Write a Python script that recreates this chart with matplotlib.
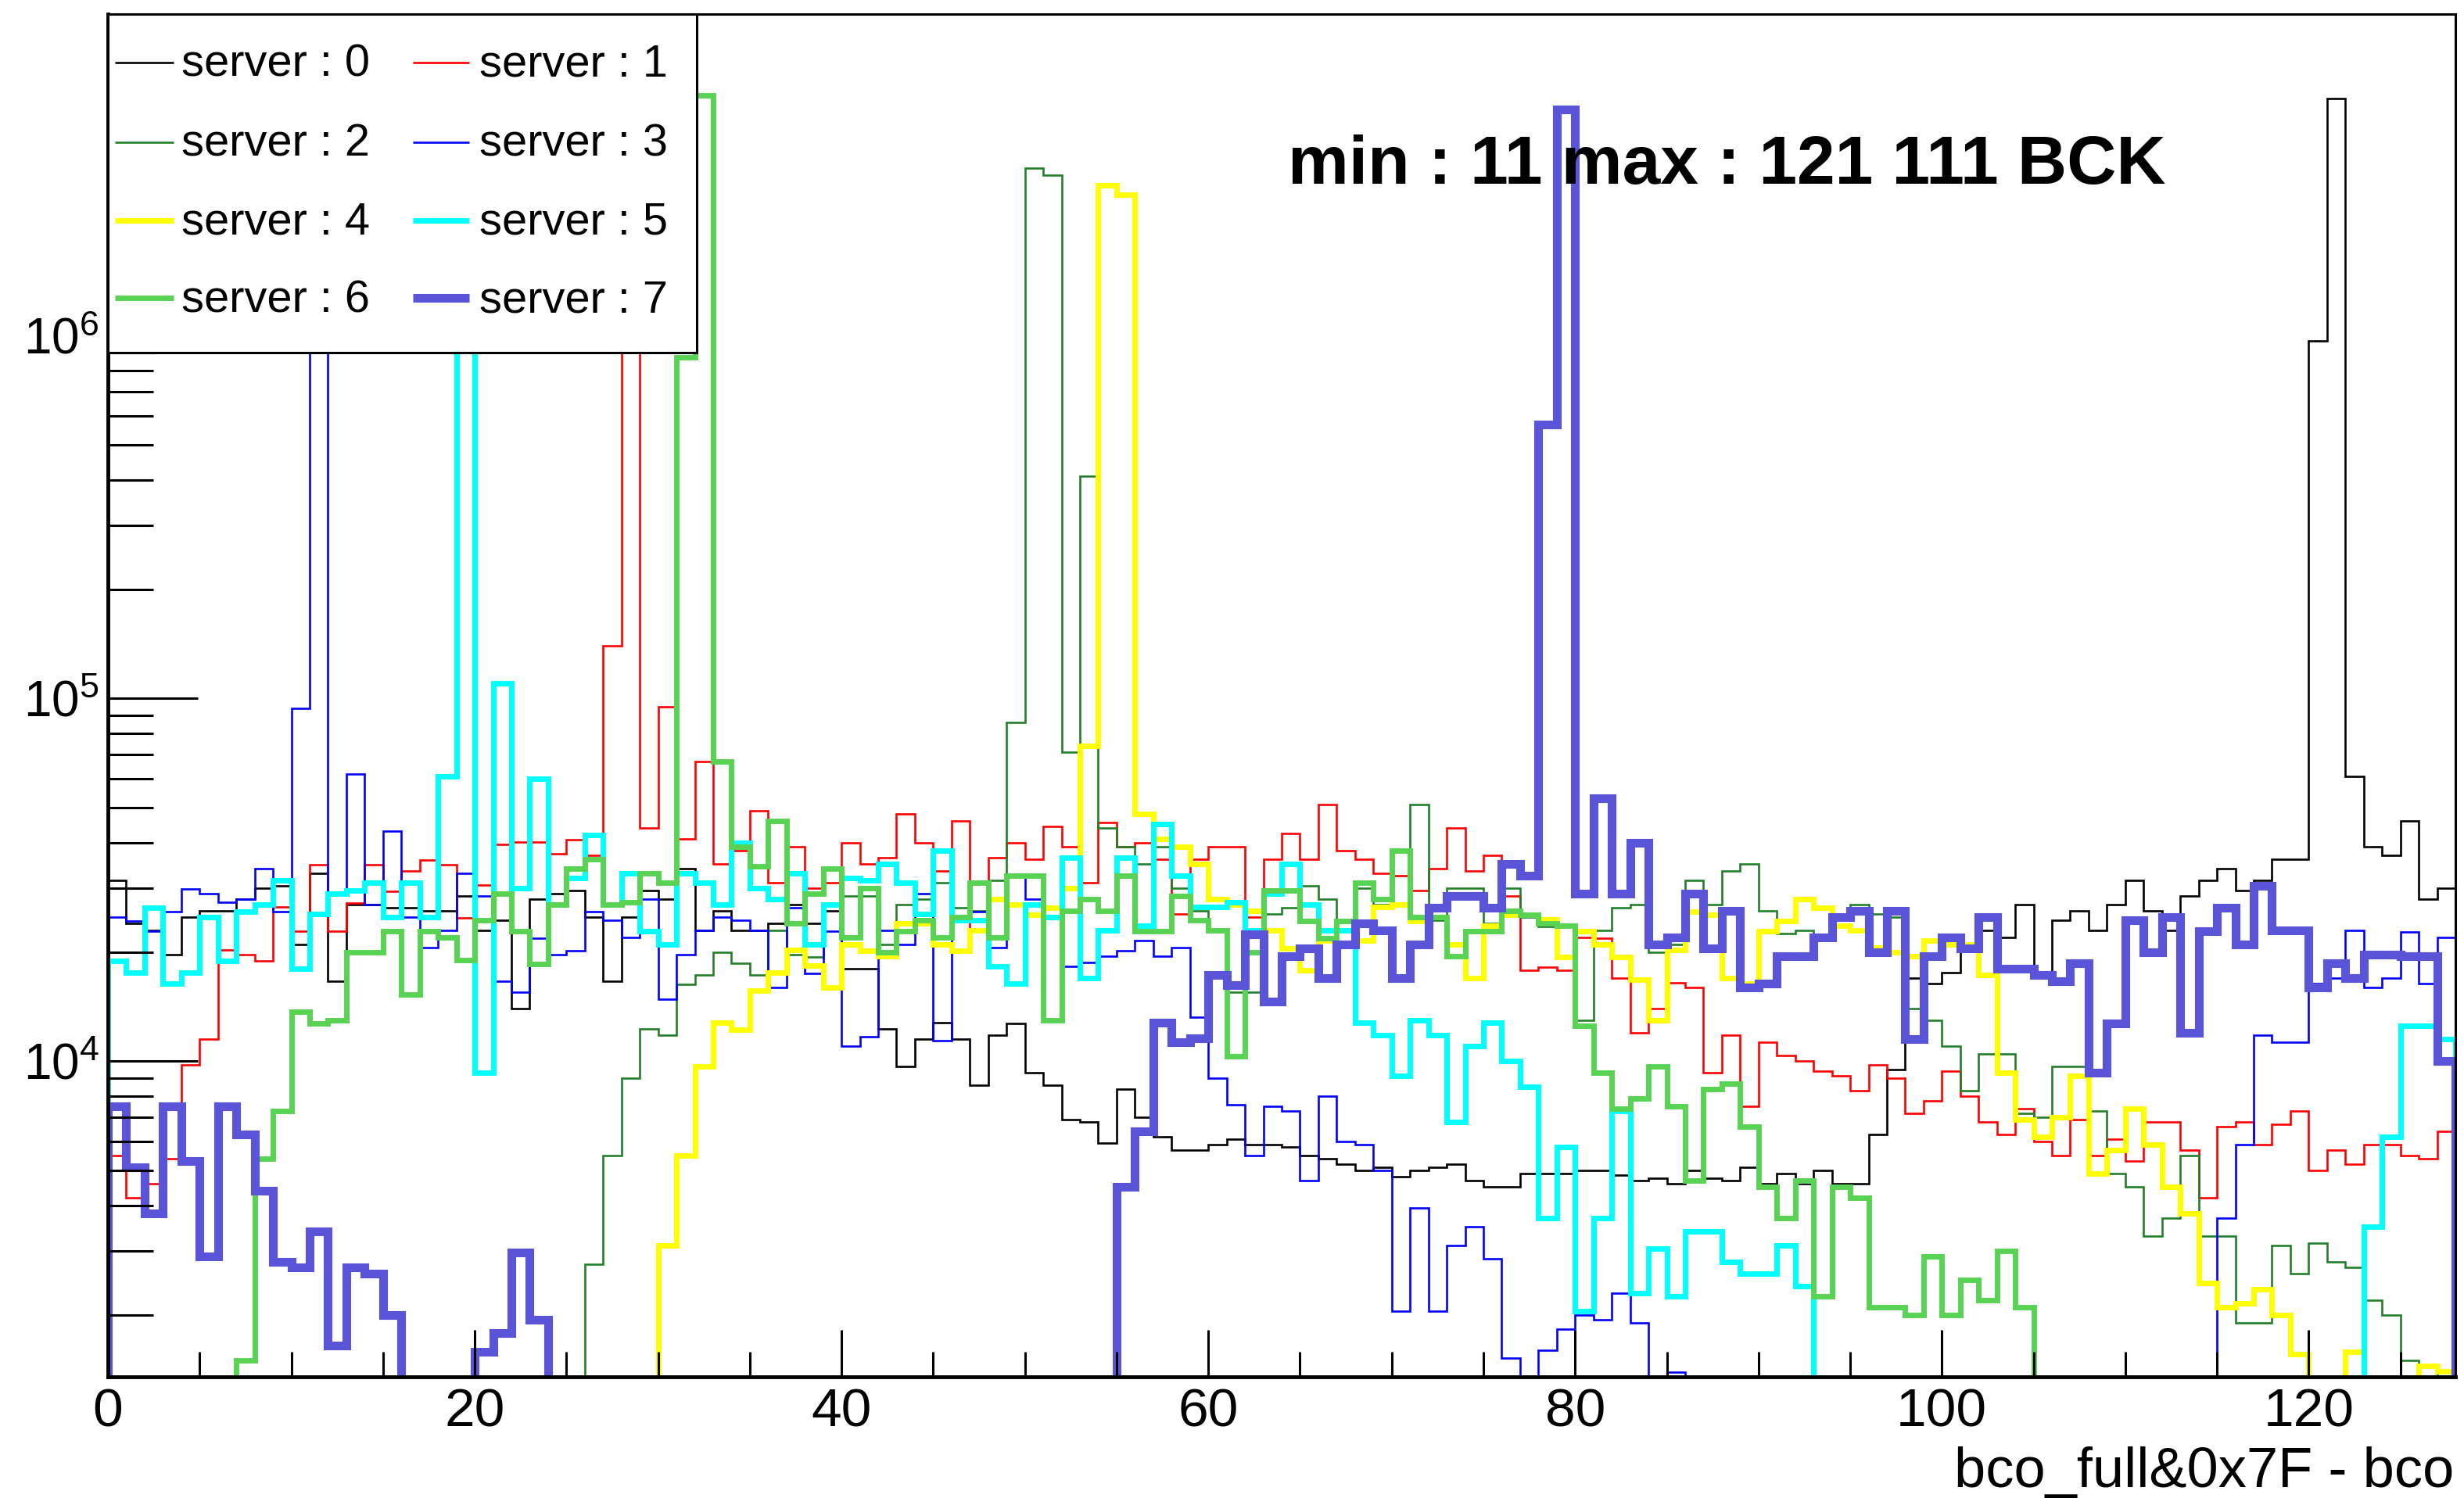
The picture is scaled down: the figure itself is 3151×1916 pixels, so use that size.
import matplotlib
matplotlib.use('Agg')
import matplotlib.pyplot as plt
import numpy as np
from matplotlib.ticker import MultipleLocator, LogLocator, NullFormatter
from matplotlib.patches import Rectangle
from matplotlib.lines import Line2D

plt.rcParams['font.family'] = ['Liberation Sans', 'DejaVu Sans']
plt.rcParams['mathtext.fontset'] = 'custom'
plt.rcParams['mathtext.rm'] = 'Liberation Sans'
plt.rcParams['mathtext.it'] = 'Liberation Sans:italic'
plt.rcParams['mathtext.bf'] = 'Liberation Sans:bold'

# entries per bin of (bco_full & 0x7F) - bco, in thousands; 1.0 = below the plotted range
server0 = [31.6, 24, 23, 19.7, 25, 26, 26, 28, 30, 30.5, 21, 33, 16.6, 27, 27, 26.5,
           26.5, 26, 26, 28.5, 23, 24.5, 14, 28, 29, 29.5, 25, 16.6, 25, 29.5, 28, 34,
           23, 26, 23, 23, 24, 27, 24, 26, 18, 18, 12.3, 9.7, 11.5, 12.8, 11.5, 8.6,
           11.8, 12.7, 9.3, 8.6, 6.9, 6.8, 5.95, 8.4, 7.0, 6.2, 5.7, 5.7, 5.9, 6.1, 5.9, 5.9,
           5.8, 5.5, 5.4, 5.2, 5.0, 5.1, 4.8, 5.0, 5.1, 5.2, 4.7, 4.5, 4.5, 4.9, 4.9, 4.9,
           5.0, 5.0, 4.85, 4.7, 4.75, 4.6, 5.0, 4.75, 4.7, 5.1, 4.6, 4.9, 4.6, 5.0, 4.6, 4.6,
           6.3, 9.5, 17, 16.4, 17.6, 21, 23, 22, 27, 17.6, 24.5, 26, 23, 27, 31.5, 26,
           23, 28.5, 31.5, 34, 29.5, 31.5, 36, 36, 970, 4500, 61, 39, 37, 46, 28, 30]
server1 = [5.5, 4.2, 4.6, 5.4, 9.8, 11.5, 20.3, 19.7, 18.9, 26.6, 22.8, 34.8, 22.8, 27.3, 34.8, 29.4,
           33.5, 35.8, 34.8, 24.8, 30.6, 39.6, 40.2, 40.2, 37.4, 40.8, 36.9, 140, 2500, 44, 95, 41,
           67, 35, 38, 49, 31, 39, 30, 31, 40, 35, 36.5, 48, 40, 33.5, 46, 23,
           36.5, 40, 36, 44.5, 39, 31, 45.5, 39, 40, 36, 25.5, 36, 39, 39, 25, 36,
           42.5, 36, 51, 38, 36, 33, 32.5, 29.5, 34, 44, 33.5, 37, 28.5, 17.8, 18.2, 17.8,
           22, 21.8, 17, 12, 14, 16.5, 16, 9.3, 11.8, 7.5, 11.3, 10.4, 10, 9.4, 9.1, 8.3,
           9.8, 9.0, 7.2, 7.8, 9.4, 8.0, 6.8, 6.3, 7.4, 6.0, 5.5, 6.9, 5.5, 6.1, 5.3, 6.8,
           6.8, 5.7, 4.2, 6.6, 6.8, 5.9, 6.7, 7.3, 5.0, 5.7, 5.2, 5.9, 5.9, 5.5, 5.4, 6.4]
server2 = [1.0, 1.0, 1.0, 1.0, 1.0, 1.0, 1.0, 1.0, 1.0, 1.0, 1.0, 1.0, 1.0, 1.0, 1.0, 1.0,
           1.0, 1.0, 1.0, 1.0, 1.0, 1.0, 1.0, 1.0, 1.0, 1.0, 2.76, 5.5, 9.0, 12.3, 11.8, 16.3,
           17.3, 20, 18.6, 17.3, 23, 19.7, 19.4, 27, 28.5, 28.5, 21, 27, 28, 31, 26.5, 26,
           31.5, 86, 2900, 2770, 71, 410, 44, 39, 35, 39, 30, 26, 22.8, 15.5, 15.5, 25.5,
           26.5, 30.5, 28, 22.8, 30, 27, 38, 51, 24.5, 30, 30, 24, 30, 25, 23.5, 23.5,
           13, 23, 26.5, 27, 20, 21, 31.5, 27, 33.5, 35, 26, 22.5, 23, 22, 24.5, 27,
           25.5, 25, 14, 13, 11, 8.3, 10.5, 10.5, 7.2, 7.0, 9.7, 9.7, 7.3, 4.9, 4.5, 3.3,
           3.7, 5.5, 3.3, 3.3, 1.9, 1.9, 3.1, 2.6, 3.15, 2.8, 2.7, 2.2, 2.0, 1.5, 1.3, 1.4]
server3 = [25, 24.4, 22.8, 25.8, 29.8, 29, 27.5, 28, 34, 25.8, 94, 3000, 29, 62, 27, 43,
           25, 20.6, 23, 33, 28.5, 16.6, 15.5, 21.8, 19.7, 20.2, 25.8, 24.5, 22, 28, 14.8, 19.7,
           23, 25, 24.5, 23, 16, 26.5, 17.5, 22.8, 11, 11.7, 23, 21, 29, 11.4, 25, 25.8,
           20.6, 32.5, 28, 25, 18.3, 18.7, 19.5, 20.2, 21.5, 19.5, 20.6, 13.2, 9.0, 7.6, 5.5, 7.5,
           7.3, 4.7, 8.0, 6.0, 5.9, 5.0, 2.05, 3.95, 2.05, 3.1, 3.5, 2.85, 1.52, 1.0, 1.6, 1.83,
           2.0, 1.94, 2.3, 1.9, 1.0, 1.39, 1.0, 1.0, 1.0, 1.0, 1.0, 1.0, 1.0, 1.0, 1.0, 1.0,
           1.0, 1.0, 1.0, 1.0, 1.0, 1.0, 1.0, 1.0, 1.0, 1.0, 1.0, 1.0, 1.0, 1.0, 1.0, 1.0,
           1.0, 1.0, 1.0, 3.7, 5.9, 11.8, 11.3, 11.3, 16.4, 17, 23, 16, 17, 22.7, 16.4, 22]
server4 = [1.0, 1.0, 1.0, 1.0, 1.0, 1.0, 1.0, 1.0, 1.0, 1.0, 1.0, 1.0, 1.0, 1.0, 1.0, 1.0,
           1.0, 1.0, 1.0, 1.0, 1.0, 1.0, 1.0, 1.0, 1.0, 1.0, 1.0, 1.0, 1.0, 1.0, 3.1, 5.5,
           9.7, 12.8, 12.2, 15.7, 17.6, 20.3, 18.4, 16, 21, 20.2, 19.5, 24, 24, 21, 20.2, 23,
           28, 27, 25.3, 26.5, 30, 74, 2600, 2450, 48, 41, 39, 35, 28, 27, 26, 23,
           20.5, 17.8, 21.5, 21, 21.5, 26.6, 27, 24.4, 25, 21, 17, 23.7, 25.3, 25.3, 24.6, 19.4,
           22.8, 21, 19.4, 16.8, 13, 20.3, 25.8, 25.3, 17, 16.4, 22.8, 24.4, 28, 26.5, 23.7, 23,
           20.6, 20, 19.5, 21.5, 21, 21, 17.3, 9.3, 6.9, 6.2, 7.0, 9.1, 4.9, 5.7, 7.4, 5.9,
           4.5, 3.8, 2.45, 2.1, 2.15, 2.35, 2.0, 1.56, 1.0, 1.0, 1.58, 1.0, 1.0, 1.0, 1.45, 1.4]
server5 = [18.9, 17.6, 26.5, 16.4, 17.6, 25, 18.9, 25.8, 27, 31.6, 18, 25.5, 29, 29.5, 31, 25,
           31, 25, 61, 1500, 9.3, 110, 30, 60, 27, 32, 42, 27, 33, 22.8, 21, 33,
           31, 27, 40, 30, 28, 33, 21, 27, 32, 31.5, 35, 31, 25.5, 38, 24.5, 24.5,
           18.3, 16.4, 27, 25, 36.5, 17, 23, 36.5, 23.7, 45, 32.5, 26.6, 26.6, 27.5, 23, 29,
           35, 27, 23, 23, 12.8, 11.8, 9.1, 13, 11.8, 6.8, 11, 12.8, 10, 8.5, 3.7, 5.8,
           2.05, 3.7, 7.3, 2.3, 3.05, 2.25, 3.4, 3.4, 2.8, 2.6, 2.6, 3.1, 2.4, 1.0, 1.0, 1.0,
           1.0, 1.0, 1.0, 1.0, 1.0, 1.0, 1.0, 1.0, 1.0, 1.0, 1.0, 1.0, 1.0, 1.0, 1.0, 1.0,
           1.0, 1.0, 1.0, 1.0, 1.0, 1.0, 1.0, 1.0, 1.0, 1.0, 1.0, 3.5, 6.2, 12.5, 12.5, 11.5]
server6 = [1.0, 1.0, 1.0, 1.0, 1.0, 1.0, 1.0, 1.5, 5.4, 7.3, 13.7, 12.7, 13, 20, 20, 22.8,
           15.3, 22.8, 22, 19, 24.5, 29, 22.8, 18.5, 27, 34, 36, 27, 27.5, 33, 31, 870,
           4600, 67, 39, 34.5, 46, 24, 29, 34, 22, 30, 20, 22.8, 24.5, 22, 25, 31,
           22, 32.5, 32.5, 13, 26, 28, 26, 32.5, 22.8, 22.8, 28.5, 24.5, 23, 10.3, 20, 29.5,
           29.5, 24.4, 21.8, 24.4, 31, 28, 38, 25, 25, 19.5, 22.8, 22.8, 26, 25.3, 24, 23.7,
           12.5, 9.3, 7.4, 7.9, 9.7, 7.5, 4.7, 8.4, 8.7, 6.6, 4.5, 3.7, 4.7, 2.25, 4.5, 4.2,
           2.1, 2.1, 2.0, 2.9, 2.0, 2.5, 2.2, 3.0, 2.1, 1.0, 1.0, 1.0, 1.0, 1.0, 1.0, 1.0,
           1.0, 1.0, 1.0, 1.0, 1.0, 1.0, 1.0, 1.0, 1.0, 1.0, 1.0, 1.0, 1.0, 1.0, 1.0, 1.0]
server7 = [7.5, 5.1, 3.8, 7.5, 5.3, 2.9, 7.5, 6.3, 4.4, 2.8, 2.7, 3.4, 1.65, 2.7, 2.6, 2.0,
           1.0, 1.0, 1.0, 1.0, 1.58, 1.78, 2.97, 1.94, 1.0, 1.0, 1.0, 1.0, 1.0, 1.0, 1.0, 1.0,
           1.0, 1.0, 1.0, 1.0, 1.0, 1.0, 1.0, 1.0, 1.0, 1.0, 1.0, 1.0, 1.0, 1.0, 1.0, 1.0,
           1.0, 1.0, 1.0, 1.0, 1.0, 1.0, 1.0, 4.5, 6.4, 12.8, 11.3, 11.6, 17.3, 16.2, 22.4, 14.6,
           19.5, 20.5, 17, 21, 24, 23, 17, 21, 26.5, 28.5, 28.5, 26.5, 35, 32.5, 570, 4200,
           29, 53, 29, 40, 21, 22, 29, 20.5, 26, 16, 16.4, 19.5, 19.5, 22, 25, 26,
           20, 26, 11.5, 19.5, 22, 20.5, 25, 18, 18, 17.3, 16.6, 18.6, 9.3, 12.7, 24.5, 20,
           25, 12, 22.8, 26.5, 21, 30.5, 23, 23, 16, 18.6, 17, 19.7, 19.7, 19.5, 19.5, 10]

labels = ['server : 0', 'server : 1', 'server : 2', 'server : 3',
          'server : 4', 'server : 5', 'server : 6', 'server : 7']
colors = ['#000000', '#ff0000', '#23802a', '#0000ff',
          '#ffff00', '#00ffff', '#59d354', '#5954d8']
widths = [1.9, 1.9, 1.9, 1.9, 5.0, 5.0, 5.0, 8.0]
series = [server0, server1, server2, server3, server4, server5, server6, server7]

W, H = 3151, 1916


def fx(x):
    return x / W


def fy(y):
    return 1 - y / H


fig = plt.figure(figsize=(W / 100, H / 100), dpi=100)
ax = fig.add_axes([fx(138), fy(1761), (3140 - 138) / W, (1761 - 18) / H])

edges = np.arange(129)
for vals, col, lw in zip(series, colors, widths):
    ax.stairs(np.array(vals) * 1e3, edges, baseline=1.0, color=col, lw=lw)

ax.set_yscale('log')
ax.set_xlim(0, 128)
ax.set_ylim(1350, 7.7e6)

ax.xaxis.set_major_locator(MultipleLocator(20))
ax.xaxis.set_minor_locator(MultipleLocator(5))
ax.yaxis.set_major_locator(LogLocator(base=10))
ax.yaxis.set_minor_locator(LogLocator(base=10, subs=np.arange(2, 10)))
ax.yaxis.set_minor_formatter(NullFormatter())

ax.tick_params(axis='x', which='major', direction='in', length=43, width=2.2, pad=9.5, labelsize=50)
ax.tick_params(axis='x', which='minor', direction='in', length=23, width=2.2)
ax.tick_params(axis='y', which='major', direction='in', length=83, width=2.2, pad=8, labelsize=46)
ax.tick_params(axis='y', which='minor', direction='in', length=42, width=2.2)
ax.tick_params(top=False, right=False, which='both')

for side in ['left', 'bottom']:
    ax.spines[side].set_linewidth(3.5)
for side in ['top', 'right']:
    ax.spines[side].set_linewidth(2.2)

# legend box, ROOT style
box = Rectangle((fx(138), fy(451)), (891 - 138) / W, (451 - 18) / H, transform=fig.transFigure,
                facecolor='white', edgecolor='black', lw=2.2, zorder=10)
fig.add_artist(box)
rows = [98, 200, 300, 399]
cols = [(147, 222, 232), (528, 600, 613)]
for i, (lab, col, lw) in enumerate(zip(labels, colors, widths)):
    r = rows[i // 2]
    x0, x1, xt = cols[i % 2]
    fig.add_artist(Line2D([fx(x0), fx(x1)], [fy(r - 18), fy(r - 18)], transform=fig.transFigure,
                          color=col, lw=lw, zorder=11, solid_capstyle='butt'))
    fig.text(fx(xt), fy(r), lab, fontsize=41.6, ha='left', va='baseline', zorder=11)

fig.text(fx(1647), fy(235), 'min : 11 max : 121 111 BCK', fontsize=63, fontweight='bold',
         ha='left', va='baseline')
fig.text(fx(3138), fy(1902), 'bco_full&0x7F - bco', fontsize=52, ha='right', va='baseline')

fig.savefig('out.png', dpi=100)
